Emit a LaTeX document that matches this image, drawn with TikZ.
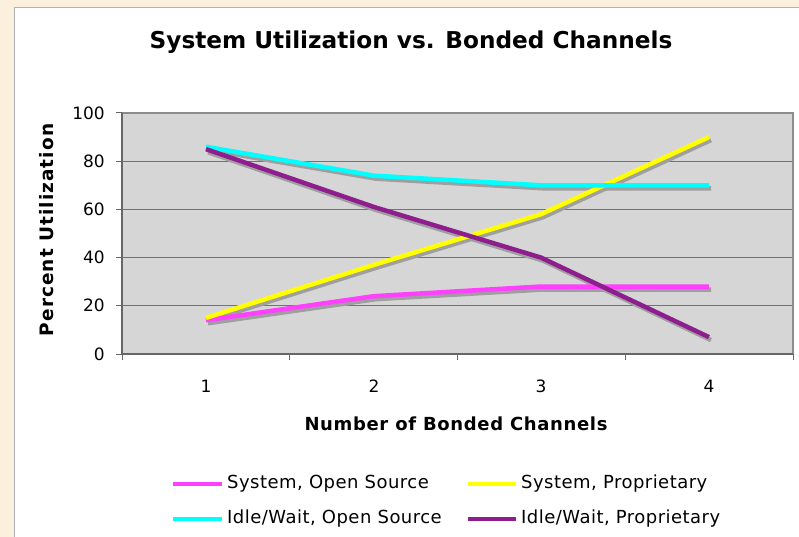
\documentclass[tikz,border=0pt]{standalone}
\usepackage{fontspec}
\setmainfont{DejaVu Sans}
\begin{document}
\begin{tikzpicture}[x=1pt,y=-1pt,
  series/.style={line width=4.5pt,line join=round},
  shadow/.style={line width=4.5pt,line join=round,draw=gray!75},
  tick/.style={draw=black!60,line width=1pt},
  grid/.style={draw=black!55,line width=1.2pt},
  ticklabel/.style={font=\fontsize{17}{20}\selectfont,inner sep=0pt},
  axistitle/.style={inner sep=0pt},
  legtext/.style={font=\fontsize{18}{21}\selectfont\addfontfeature{LetterSpace=2.6}, inner sep=0pt,anchor=west}]
\definecolor{parch}{HTML}{FBF0DD}
\definecolor{plotbg}{HTML}{D6D6D6}
\definecolor{sysos}{HTML}{FF40FF}
\definecolor{sysprop}{HTML}{FFFF00}
\definecolor{idleos}{HTML}{00FFFF}
\definecolor{idleprop}{HTML}{8E1E8E}
\useasboundingbox (0,0) rectangle (799,537);
% page background and white panel
\fill[parch] (0,0) rectangle (799,537);
\fill[white] (15,8) rectangle (799,537);
\draw[black!30,line width=1pt] (14.5,537) -- (14.5,7.5) -- (799,7.5);
% title
\node[font=\bfseries\fontsize{23.2}{28}\selectfont,inner sep=0pt] (title) at (411,42) {System Utilization vs. Bonded Channels};
% plot area: y value v maps to 354-2.41*v
\fill[plotbg] (122,113) rectangle (793,354);
\foreach \v in {20,40,60,80} {\draw[grid] (122,354-2.41*\v) -- (793,354-2.41*\v);}
\draw[black!45,line width=2pt] (122,113) -- (793,113) -- (793,354);
\draw[tick,line width=1.4pt] (122,113) -- (122,354) -- (793,354);
\foreach \v in {0,20,...,100} {
  \draw[tick] (116,354-2.41*\v) -- (122,354-2.41*\v);
  \node[ticklabel,anchor=east] at (105,354-2.41*\v) {\v};
}
\foreach \x in {122,289.75,457.5,625.25,793} {\draw[tick] (\x,354) -- (\x,360);}
\foreach \c/\x in {1/206,2/374,3/541,4/709} {\node[ticklabel] at (\x,386) {\c};}
\node[axistitle,font=\bfseries\fontsize{18}{21}\selectfont\addfontfeature{LetterSpace=3.6}] (xtitle) at (456,424) {Number of Bonded Channels};
\node[axistitle,rotate=90,font=\bfseries\fontsize{18.5}{21}\selectfont\addfontfeature{LetterSpace=5.7}] (ytitle) at (47,230) {Percent Utilization};
% data series with drop shadows
\foreach \col/\a/\b/\c/\d in {sysos/14/24/28/28,sysprop/15/37/58/90,idleos/86/74/70/70,idleprop/85/61/40/7} {
  \draw[shadow] (208,357-2.41*\a) -- (376,357-2.41*\b) -- (543,357-2.41*\c) -- (711,357-2.41*\d);
}
\foreach \col/\a/\b/\c/\d in {sysos/14/24/28/28,sysprop/15/37/58/90,idleos/86/74/70/70,idleprop/85/61/40/7} {
  \draw[series,draw=\col] (206,354-2.41*\a) -- (374,354-2.41*\b) -- (541,354-2.41*\c) -- (709,354-2.41*\d);
}
% legend
\coordinate (l1a) at (173,484); \coordinate (l1b) at (222,484);
\coordinate (l2a) at (468,484); \coordinate (l2b) at (516,484);
\coordinate (l3a) at (173,519); \coordinate (l3b) at (222,519);
\coordinate (l4a) at (468,519); \coordinate (l4b) at (516,519);
\draw[series,draw=sysos] (l1a) -- (l1b);
\draw[series,draw=sysprop] (l2a) -- (l2b);
\draw[series,draw=idleos] (l3a) -- (l3b);
\draw[series,draw=idleprop] (l4a) -- (l4b);
\node[legtext] (t1) at (227,484) {System, Open Source};
\node[legtext] (t2) at (521,484) {System, Proprietary};
\node[legtext] (t3) at (227,519) {Idle/Wait, Open Source};
\node[legtext] (t4) at (521,519) {Idle/Wait, Proprietary};
\end{tikzpicture}
\end{document}
